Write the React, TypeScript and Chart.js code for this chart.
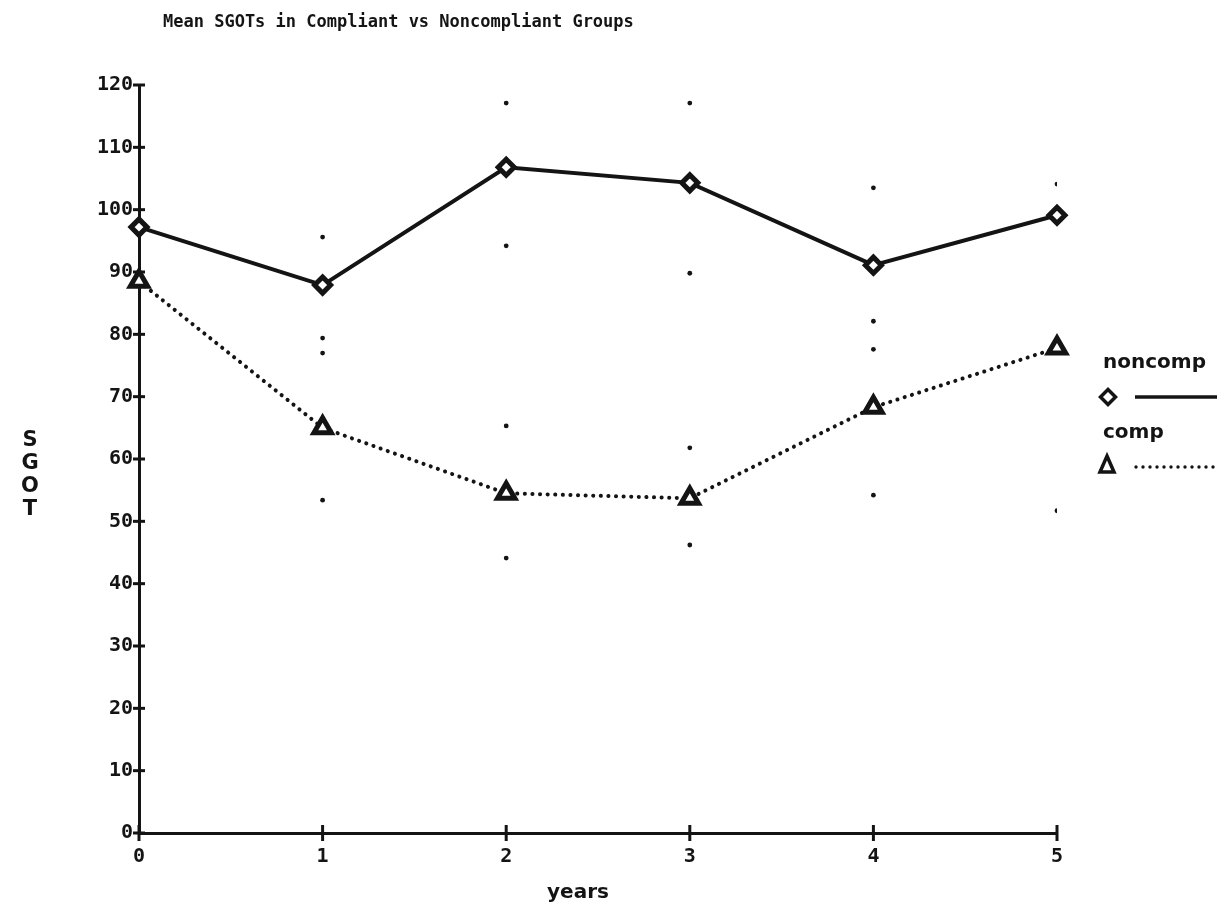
import React, { useEffect, useRef } from 'react';
import { Chart, registerables } from 'chart.js';

Chart.register(...registerables);

const years = [0, 1, 2, 3, 4, 5];
const noncomp = [97.2, 87.9, 106.8, 104.3, 91.1, 99.1];
const comp = [88.5, 65.0, 54.5, 53.7, 68.3, 77.8];
const noncompUpper = [null, 95.6, 117.1, 117.1, 103.5, 104.1];
const noncompLower = [null, 79.4, 94.2, 89.8, 77.6, null];
const compUpper = [null, 77.0, 65.3, 61.8, 82.1, null];
const compLower = [null, 53.4, 44.1, 46.2, 54.2, 51.7];
const yTicks = [0, 10, 20, 30, 40, 50, 60, 70, 80, 90, 100, 110, 120];
const xTicks = [0, 1, 2, 3, 4, 5];
const titleText = 'Mean SGOTs in Compliant vs Noncompliant Groups';
const yTitleLetters = ['S', 'G', 'O', 'T'];
const xTitleText = 'years';
const seriesNames = ['noncomp', 'comp'];

const INK = '#141414';

function toPoints(vals: (number | null)[]) {
  const out: { x: number; y: number }[] = [];
  vals.forEach((v, i) => {
    if (v !== null) out.push({ x: years[i], y: v });
  });
  return out;
}

const decorPlugin = {
  id: 'decor',
  afterDraw(chart: any) {
    const ctx = chart.ctx as CanvasRenderingContext2D;
    const xs = chart.scales.x;
    const ys = chart.scales.y;
    ctx.save();
    ctx.strokeStyle = INK;
    ctx.fillStyle = INK;
    // tick marks crossing the axes
    ctx.lineWidth = 3;
    const ax = xs.left;
    yTicks.forEach((t) => {
      const py = ys.getPixelForValue(t);
      ctx.beginPath();
      ctx.moveTo(ax - 6, py);
      ctx.lineTo(ax + 6, py);
      ctx.stroke();
    });
    const ay = ys.bottom;
    xTicks.forEach((t) => {
      const px = xs.getPixelForValue(t);
      ctx.beginPath();
      ctx.moveTo(px, ay - 8);
      ctx.lineTo(px, ay + 8);
      ctx.stroke();
    });
    // title
    ctx.font = 'bold 17px "DejaVu Sans Mono"';
    ctx.textAlign = 'left';
    ctx.textBaseline = 'middle';
    ctx.fillText(titleText, 163, 23);
    // y title letters
    ctx.font = 'bold 21px "DejaVu Sans"';
    ctx.textAlign = 'center';
    yTitleLetters.forEach((l, i) => {
      ctx.fillText(l, 30, 441 + i * 23);
    });
    // x title
    ctx.font = 'bold 20px "DejaVu Sans"';
    ctx.fillText(xTitleText, 578, 893);
    // legend
    ctx.textAlign = 'left';
    ctx.font = 'bold 20px "DejaVu Sans"';
    ctx.fillText(seriesNames[0], 1103, 363);
    ctx.fillText(seriesNames[1], 1103, 433);
    // diamond
    ctx.lineWidth = 3.5;
    ctx.beginPath();
    const dx = 1108, dy = 397, dr = 7.5;
    ctx.moveTo(dx - dr, dy);
    ctx.lineTo(dx, dy - dr);
    ctx.lineTo(dx + dr, dy);
    ctx.lineTo(dx, dy + dr);
    ctx.closePath();
    ctx.stroke();
    ctx.lineWidth = 3.5;
    ctx.beginPath();
    ctx.moveTo(1135, 397);
    ctx.lineTo(1217, 397);
    ctx.stroke();
    // triangle
    ctx.lineWidth = 3.5;
    ctx.beginPath();
    const tx = 1107, ty = 466;
    ctx.moveTo(tx, ty - 10);
    ctx.lineTo(tx + 7, ty + 6);
    ctx.lineTo(tx - 7, ty + 6);
    ctx.closePath();
    ctx.stroke();
    // dotted line
    for (let x = 1136; x <= 1218; x += 7) {
      ctx.beginPath();
      ctx.arc(x, 467, 1.7, 0, Math.PI * 2);
      ctx.fill();
    }
    ctx.restore();
  },
};

export default function App() {
  const ref = useRef<HTMLCanvasElement>(null);
  useEffect(() => {
    if (!ref.current) return;
    const dots = [
      ...toPoints(noncompUpper),
      ...toPoints(noncompLower),
      ...toPoints(compUpper),
      ...toPoints(compLower),
    ];
    const chart = new Chart(ref.current, {
      type: 'scatter',
      data: {
        datasets: [
          {
            label: 'bounds',
            data: dots,
            pointRadius: 2.4,
            pointBackgroundColor: INK,
            pointBorderWidth: 0,
            showLine: false,
            order: 3,
          },
          {
            label: seriesNames[0],
            data: years.map((x, i) => ({ x, y: noncomp[i] })),
            showLine: true,
            borderColor: INK,
            borderWidth: 4,
            pointStyle: 'rectRot',
            pointRadius: 8,
            pointBorderWidth: 5,
            pointBorderColor: INK,
            pointBackgroundColor: '#fff',
            clip: false,
            order: 1,
          },
          {
            label: seriesNames[1],
            data: years.map((x, i) => ({ x, y: comp[i] })),
            showLine: true,
            borderColor: INK,
            borderWidth: 4,
            borderDash: [0.1, 7.5],
            borderCapStyle: 'round',
            pointStyle: 'triangle',
            pointRadius: 10,
            pointBorderWidth: 5,
            pointBorderColor: INK,
            pointBackgroundColor: '#fff',
            clip: false,
            order: 2,
          },
        ],
      } as any,
      options: {
        animation: false,
        responsive: false,
        layout: { padding: { left: 0, top: 85, right: 174, bottom: 0 } },
        plugins: {
          legend: { display: false },
          tooltip: { enabled: false },
          title: { display: false },
        },
        scales: {
          x: {
            type: 'linear',
            min: 0,
            max: 5,
            afterFit: (s: any) => {
              s.height = 83;
            },
            afterBuildTicks: (s: any) => {
              s.ticks = xTicks.map((v) => ({ value: v }));
            },
            grid: { display: false, drawTicks: false },
            border: { display: true, color: INK, width: 3 },
            ticks: {
              padding: 12,
              color: INK,
              font: { family: 'DejaVu Sans Mono', weight: 'bold', size: 20 },
            },
          },
          y: {
            type: 'linear',
            min: 0,
            max: 120,
            afterFit: (s: any) => {
              s.width = 139;
            },
            afterBuildTicks: (s: any) => {
              s.ticks = yTicks.map((v) => ({ value: v }));
            },
            grid: { display: false, drawTicks: false },
            border: { display: true, color: INK, width: 3 },
            ticks: {
              padding: 6,
              color: INK,
              font: { family: 'DejaVu Sans Mono', weight: 'bold', size: 20 },
            },
          },
        },
      } as any,
      plugins: [decorPlugin],
    });
    return () => chart.destroy();
  }, []);
  return (
    <div style={{ position: 'fixed', left: 0, top: 0, width: 1231, height: 916, background: '#fff' }}>
      <canvas ref={ref} width={1231} height={916} style={{ display: 'block' }} />
    </div>
  );
}
